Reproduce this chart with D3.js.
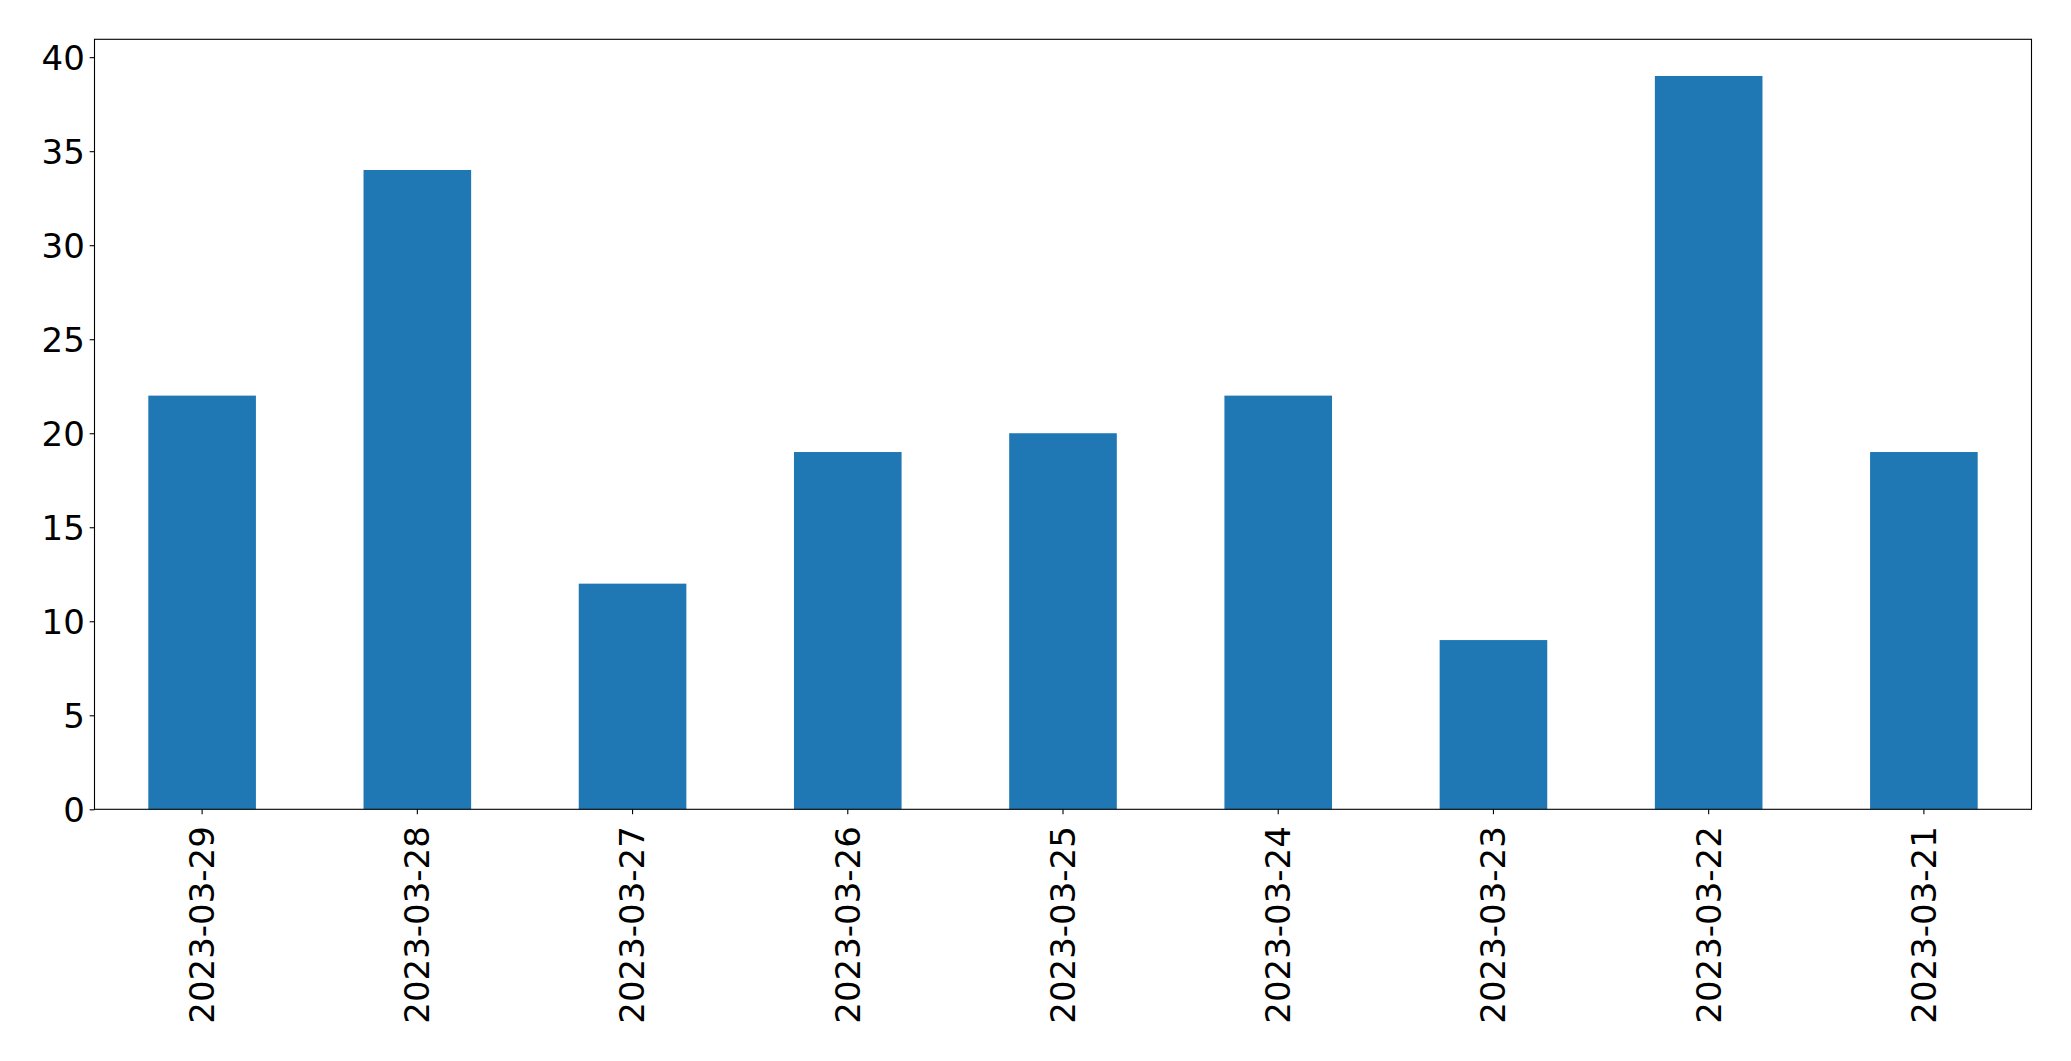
<!DOCTYPE html>
<html>
<head>
<meta charset="utf-8">
<script src="https://cdn.jsdelivr.net/npm/d3@7"></script>
<style>
  html, body { margin: 0; padding: 0; background: #fff; }
  svg { display: block; }
</style>
</head>
<body>
<svg id="chart" width="2071" height="1061"></svg>
<script>
const categories = ["2023-03-29","2023-03-28","2023-03-27","2023-03-26","2023-03-25","2023-03-24","2023-03-23","2023-03-22","2023-03-21"];
const values = [22, 34, 12, 19, 20, 22, 9, 39, 19];
const yTicks = [0, 5, 10, 15, 20, 25, 30, 35, 40];

const W = 2071, H = 1061;
const margin = {left: 94.5, right: W - 2031.5, top: 39.3, bottom: H - 809.3};
const iw = W - margin.left - margin.right;
const ih = H - margin.top - margin.bottom;
const fontSize = 34;
const tickLen = 4.86;
const font = "'DejaVu Sans', sans-serif";

const svg = d3.select("#chart");
const g = svg.append("g").attr("transform", `translate(${margin.left},${margin.top})`);

const x = d3.scaleBand().domain(categories).range([0, iw]).paddingInner(0.5).paddingOuter(0.25);
const y = d3.scaleLinear().domain([0, d3.max(values) * 1.05]).range([ih, 0]);

g.selectAll("rect.bar").data(values).enter().append("rect")
  .attr("class", "bar")
  .attr("x", (d, i) => x(categories[i]))
  .attr("width", x.bandwidth())
  .attr("y", d => y(d))
  .attr("height", d => ih - y(d))
  .attr("fill", "#1f77b4");

// y axis
const yAxis = g.append("g").call(d3.axisLeft(y).tickValues(yTicks).tickSize(tickLen).tickPadding(4.86).tickFormat(d3.format("d")));
yAxis.select(".domain").remove();
yAxis.selectAll("line").attr("stroke", "#000").attr("stroke-width", 1.1);
yAxis.selectAll("text").attr("font-family", font).attr("font-size", fontSize).attr("fill", "#000").attr("dy", "0.35em");

// x axis
const xAxis = g.append("g").attr("transform", `translate(0,${ih})`)
  .call(d3.axisBottom(x).tickSize(tickLen).tickPadding(0));
xAxis.select(".domain").remove();
xAxis.selectAll("line").attr("stroke", "#000").attr("stroke-width", 1.1);
xAxis.selectAll("text")
  .attr("font-family", font).attr("font-size", fontSize).attr("fill", "#000")
  .attr("text-anchor", "end")
  .attr("transform", `translate(0,${tickLen + 12}) rotate(-90)`)
  .attr("x", 0).attr("y", 0).attr("dy", "0.35em");

// frame
g.append("rect").attr("x", 0).attr("y", 0).attr("width", iw).attr("height", ih)
  .attr("fill", "none").attr("stroke", "#000").attr("stroke-width", 1.1);
</script>
</body>
</html>
